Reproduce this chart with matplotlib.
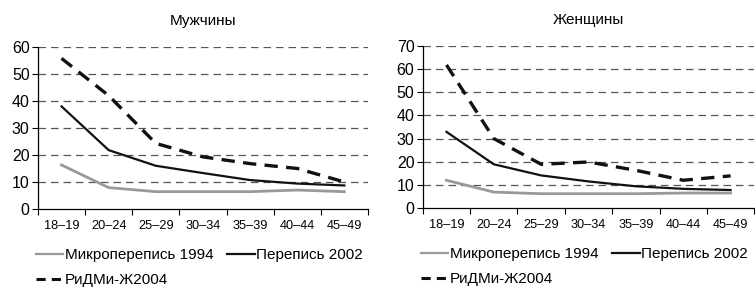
import matplotlib
matplotlib.use('Agg')
import matplotlib.pyplot as plt
from matplotlib.lines import Line2D

plt.rcParams['font.family'] = ['Liberation Sans', 'DejaVu Sans']

ages = ['18–19', '20–24', '25–29', '30–34', '35–39', '40–44', '45–49']

men_1994 = [16.3, 7.9, 6.4, 6.4, 6.4, 7.0, 6.4]
men_2002 = [38, 21.8, 16, 13.3, 10.7, 9.4, 8.7]
men_2004 = [55.8, 42, 24.3, 19.3, 16.8, 15, 10]

women_1994 = [12, 6.9, 6.2, 6.2, 6.2, 6.5, 6.5]
women_2002 = [32.9, 18.9, 14.1, 11.5, 9.4, 8.3, 7.8]
women_2004 = [61.8, 30, 18.9, 19.9, 16.3, 12, 13.9]

labels = ['Микроперепись 1994', 'Перепись 2002', 'РиДМи-Ж2004']
titles = ['Мужчины', 'Женщины']

fig = plt.figure(figsize=(7.55, 2.87), dpi=100)
ax1 = fig.add_axes([0.0503, 0.272, 0.437, 0.564])
ax2 = fig.add_axes([0.560, 0.275, 0.439, 0.565])


def draw(ax, s94, s02, s04, ymax, title):
    x = list(range(len(ages)))
    for y in range(10, ymax + 1, 10):
        ax.axhline(y, color='#555555', lw=0.9, dashes=(6, 4), zorder=1)
    ax.plot(x, s94, color='#999999', lw=2.0, zorder=3)
    ax.plot(x, s02, color='#111111', lw=1.6, zorder=3)
    ax.plot(x, s04, color='#111111', lw=2.4, dashes=(4, 2.5), zorder=4)
    ax.set_xlim(-0.5, len(ages) - 0.5)
    ax.set_ylim(0, ymax)
    ax.set_yticks(range(0, ymax + 1, 10))
    ax.tick_params(axis='y', labelsize=11.5, length=4, width=0.8, pad=2)
    ax.set_xticks([i - 0.5 for i in range(len(ages) + 1)])
    ax.set_xticklabels([])
    ax.set_xticks(x, minor=True)
    ax.set_xticklabels(ages, minor=True, fontsize=9.2)
    ax.tick_params(axis='x', which='major', length=4, width=0.8)
    ax.tick_params(axis='x', which='minor', length=0, pad=8)
    for s in ['top', 'right']:
        ax.spines[s].set_visible(False)
    for s in ['left', 'bottom']:
        ax.spines[s].set_linewidth(0.9)
    ax.set_title(title, fontsize=11, pad=16)
    handles = [
        Line2D([], [], color='#999999', lw=1.6),
        Line2D([], [], color='#111111', lw=2.2, dashes=(3, 2)),
        Line2D([], [], color='#111111', lw=1.6),
    ]
    ax.legend(handles, [labels[0], labels[2], labels[1]], ncol=2, frameon=False,
              loc='upper left', bbox_to_anchor=(-0.025, -0.205), fontsize=11,
              handlelength=1.8, handletextpad=0.1, columnspacing=0.9,
              labelspacing=0.7, borderaxespad=0)


draw(ax1, men_1994, men_2002, men_2004, 60, titles[0])
draw(ax2, women_1994, women_2002, women_2004, 70, titles[1])

fig.savefig('out.png', dpi=100)
